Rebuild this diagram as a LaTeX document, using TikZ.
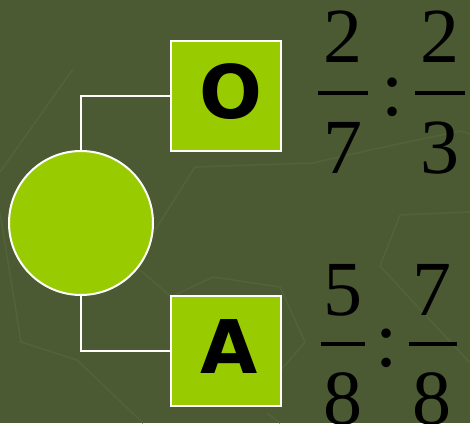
\documentclass[tikz,border=0pt]{standalone}
\usepackage{fontspec}
\setmainfont{Liberation Serif}
\newfontfamily\lettfont{DejaVu Sans}
\definecolor{bgc}{HTML}{4B5A32}
\definecolor{faint}{HTML}{53623B}
\definecolor{lime}{HTML}{99CC00}
\begin{document}
\begin{tikzpicture}[x=1pt,y=-1pt,
  boxst/.style={draw=white,line width=2pt,fill=lime,minimum size=110pt,inner sep=0pt,outer sep=0pt},
  letter/.style={inner sep=0pt,font=\lettfont\bfseries\fontsize{74}{76}\selectfont},
  digit/.style={inner sep=0pt,font=\fontsize{78}{80}\selectfont},
  colon/.style={inner sep=0pt,font=\fontsize{80}{84}\selectfont},
  fbar/.style={line width=3.5pt},
  conn/.style={draw=white,line width=2pt},
  bgline/.style={draw=faint,line width=1.5pt}]
\fill[bgc] (0,0) rectangle (470,423);
\useasboundingbox (0,0) rectangle (470,423);
% faint background lines
\draw[bgline] (73,69) -- (0,172);
\draw[bgline] (0,213) -- (21,342) -- (77,360) -- (143,423);
\draw[bgline] (150,238) -- (195,167) -- (313,163) -- (370,150) -- (460,131) -- (470,134);
\draw[bgline] (470,212) -- (400,215) -- (380,266) -- (470,363);
\draw[bgline] (140,270) -- (175,300);
\draw[bgline] (175,295) -- (213,277) -- (280,287) -- (305,342) -- (281,370);
\draw[bgline] (267,413) -- (280,423);
% shapes
\node[circle,draw=white,line width=2pt,fill=lime,minimum size=144pt,inner sep=0pt,outer sep=0pt] (c) at (81,223) {};
\node[boxst] (o) at (225.5,95.5) {};
\node[boxst] (a) at (225.5,351) {};
\draw[conn] (c.north) |- (o.west);
\draw[conn] (c.south) |- (a.west);
\node[letter] (ol) at (231,92) {O};
\node[letter] (al) at (229,347) {A};
% fractions top
\node[digit] (n1) at (343,37) {2};
\node[digit] (d1) at (343,148) {7};
\coordinate (b1l) at (318,93); \coordinate (b1r) at (368,93);
\draw[fbar] (b1l) -- (b1r);
\node[colon] (c1) at (393,97) {:};
\node[digit] (n2) at (440,37) {2};
\node[digit] (d2) at (440,148) {3};
\coordinate (b2l) at (415,93); \coordinate (b2r) at (465,93);
\draw[fbar] (b2l) -- (b2r);
% fractions bottom
\node[digit] (n3) at (343,290) {5};
\node[digit] (d3) at (343,399) {8};
\coordinate (b3l) at (321,344); \coordinate (b3r) at (365,344);
\draw[fbar] (b3l) -- (b3r);
\node[colon] (c2) at (387,348) {:};
\node[digit] (n4) at (432,290) {7};
\node[digit] (d4) at (432,399) {8};
\coordinate (b4l) at (409,344); \coordinate (b4r) at (457,344);
\draw[fbar] (b4l) -- (b4r);
\end{tikzpicture}
\end{document}
